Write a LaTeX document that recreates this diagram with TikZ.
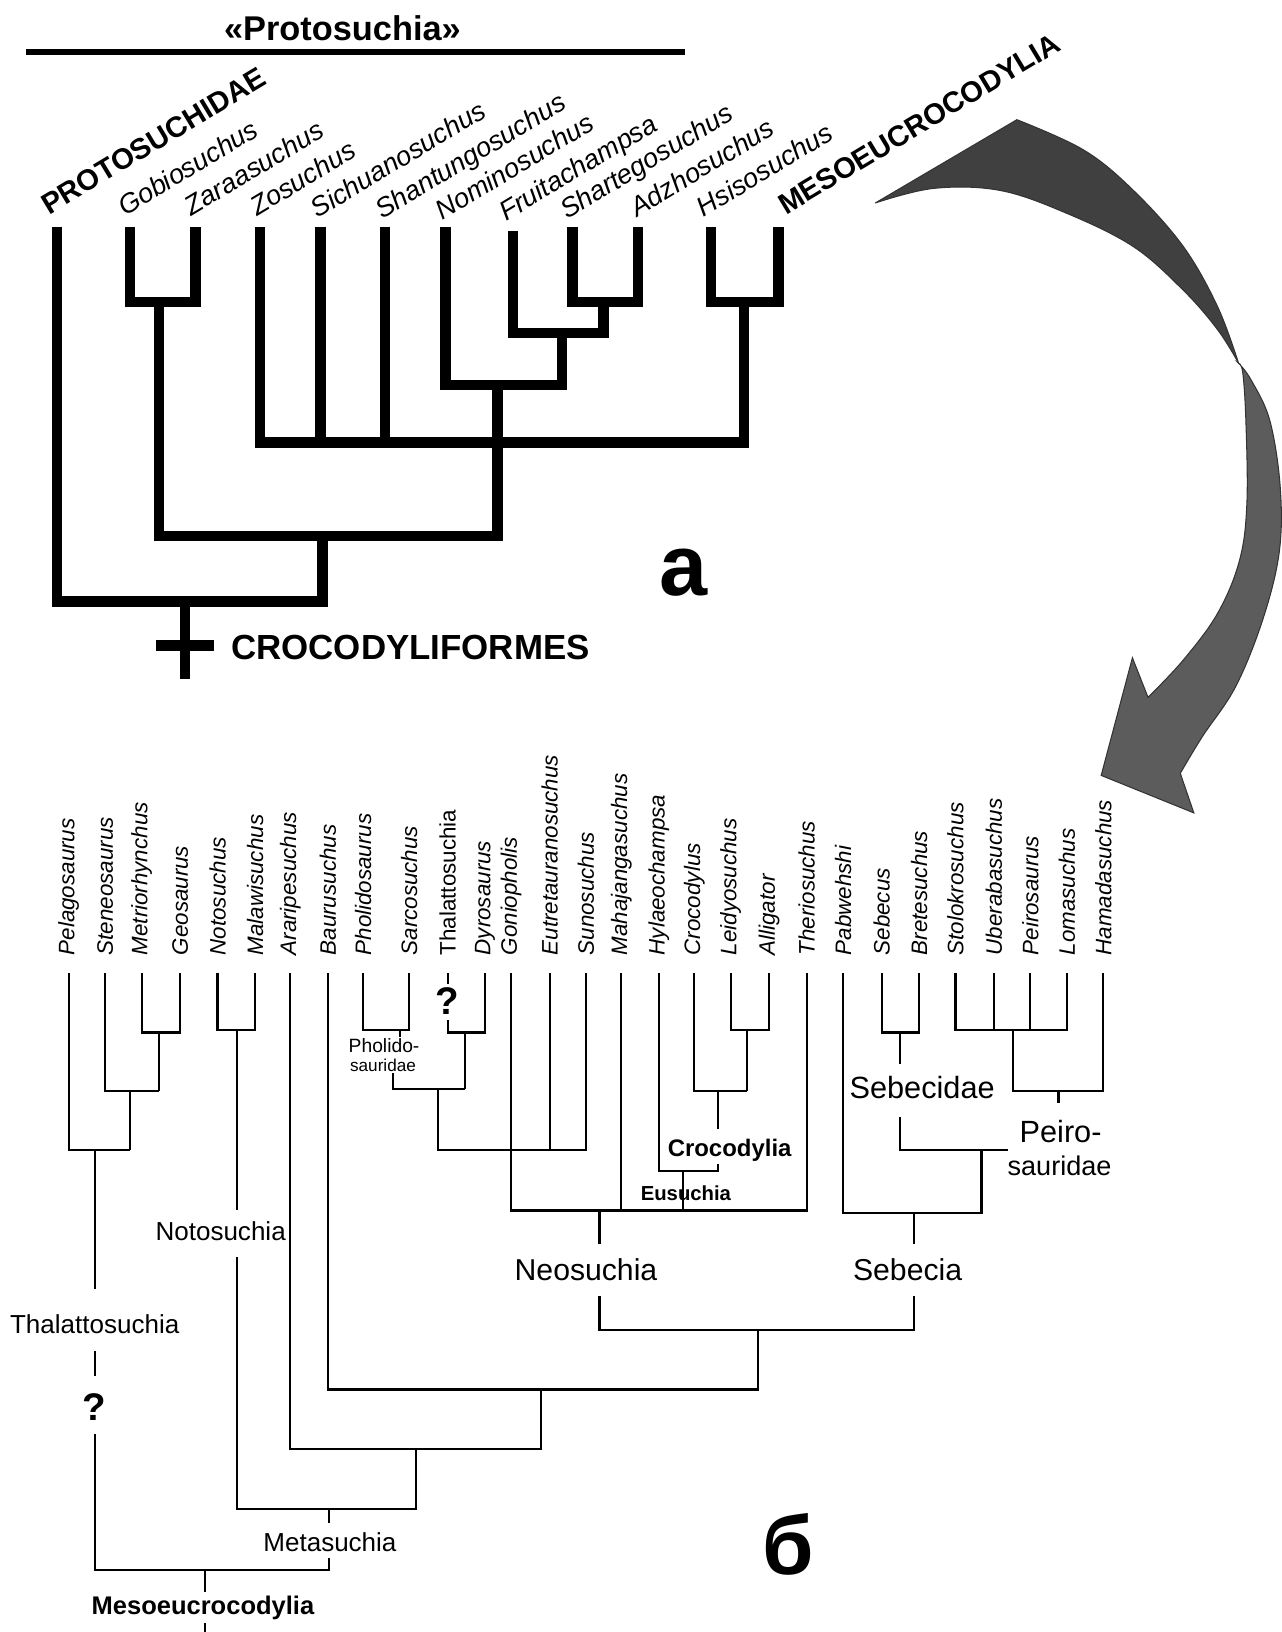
\documentclass[tikz,border=0pt]{standalone}
\usepackage{fontspec}
\setmainfont{Liberation Sans}
\newcommand\fsz[1]{\fontsize{#1}{#1}\selectfont}
\begin{document}
\begin{tikzpicture}[x=1pt,y=-1pt,
  treeA/.style={line width=10pt, line join=miter},
  treeB/.style={line width=2pt, line join=miter},
  topital/.style={anchor=base west, rotate=31, inner sep=0pt, font=\fsz{26}\itshape},
  topbold/.style={anchor=base west, rotate=31, inner sep=0pt, font=\fsz{28}\bfseries},
  botital/.style={anchor=west, rotate=90, inner sep=0pt, font=\fsz{21.5}\itshape},
  botup/.style={anchor=west, rotate=90, inner sep=0pt, font=\fsz{21.5}},
  clade/.style={inner sep=0pt, font=\fsz{25}},
  bigclade/.style={inner sep=0pt, font=\fsz{#1}},
  smallclade/.style={inner sep=0pt, font=\fsz{#1}},
  boldclade/.style={inner sep=0pt, font=\fsz{#1}\bfseries},
  qmark/.style={inner sep=0pt, font=\fsz{37}\bfseries},
  arrowup/.style={fill=black!75, draw=black!80, line width=1pt, line join=round},
  arrowlow/.style={fill=black!64, draw=black!80, line width=1pt, line join=miter}
]
\fill[white] (0,0) rectangle (1231,1568);
\useasboundingbox (0,0) rectangle (1231,1568);

% ---------------- part a ----------------
\node[inner sep=0pt, font=\fsz{33}\bfseries] (protosuchia) at (329,27) {«Protosuchia»};
\coordinate (barL) at (25,50);
\coordinate (barR) at (658,50);
\draw[line width=6pt] (barL) -- (barR);

\node[topbold] (tPro) at (47,207) {PROTOSUCHIDAE};
\node[topital] (tGob) at (120,208) {Gobiosuchus};
\node[topital] (tZar) at (184,208) {Zaraasuchus};
\node[topital] (tZos) at (247,208) {Zosuchus};
\node[topital] (tSic) at (305,210) {Sichuanosuchus};
\node[topital] (tSha) at (367,211) {Shantungosuchus};
\node[topital] (tNom) at (425,212) {Nominosuchus};
\node[topital] (tFru) at (486,213) {Fruitachampsa};
\node[topital] (tSht) at (545,211) {Shartegosuchus};
\node[topital] (tAdz) at (612,209) {Adzhosuchus};
\node[topital] (tHsi) at (676,209) {Hsisosuchus};
\node[topbold] (tMes) at (755,207) {MESOEUCROCODYLIA};

% tree a
\draw[treeA] (125,218) -- (125,290) -- (188,290) -- (188,218);
\draw[treeA] (550,218) -- (550,290) -- (613,290) -- (613,218);
\draw[treeA] (580,290) -- (580,320);
\draw[treeA] (493,222) -- (493,320) -- (585,320);
\draw[treeA] (540,320) -- (540,370);
\draw[treeA] (428,218) -- (428,370) -- (545,370);
\draw[treeA] (478,370) -- (478,425);
\draw[treeA] (683,218) -- (683,290) -- (748,290) -- (748,218);
\draw[treeA] (715,290) -- (715,425);
\draw[treeA] (250,218) -- (250,425) -- (720,425);
\draw[treeA] (308,218) -- (308,425);
\draw[treeA] (370,218) -- (370,425);
\draw[treeA] (478,425) -- (478,515);
\draw[treeA] (153,290) -- (153,515) -- (483,515);
\draw[treeA] (310,515) -- (310,578);
\draw[treeA] (55,218) -- (55,578) -- (315,578);
\coordinate (rootTop) at (178,578);
\coordinate (rootBot) at (178,652);
\draw[treeA] (rootTop) -- (rootBot);
\draw[treeA] (150,620) -- (206,620);
\node[anchor=west, inner sep=0pt, font=\fsz{33.5}\bfseries] (crocodyliformes) at (222,622) {CROCODYLIFORMES};
\node[inner sep=0pt, font=\fsz{83}\bfseries] (la) at (657,550) {а};

% ---------------- arrow ----------------
\path[arrowup] (841,195) -- plot[smooth, tension=0.6] coordinates {(977,115) (1041,144) (1089,183) (1137,237) (1170,295) (1190,349)}
  -- plot[smooth, tension=0.6] coordinates {(1190,349) (1170,317) (1137,279) (1089,237) (1025,205) (961,183) (897,181) (841,195)} -- cycle;
\path[arrowlow] plot[smooth, tension=0.6] coordinates {(1190,349) (1202,365) (1220,404) (1230,468) (1229,531) (1213,596) (1187,660) (1155,708) (1134,743)}
  -- (1147,781) -- (1058,745) -- (1088,632)
  -- plot[smooth, tension=0.6] coordinates {(1103,670) (1137,634) (1170,589) (1191,538) (1198,483) (1197,404) (1194,358) (1190,349)} -- cycle;

% ---------------- part b ----------------
\foreach \x/\t in {66/Pelagosaurus, 101/Steneosaurus, 136/Metriorhynchus, 173/Geosaurus,
  209/Notosuchus, 245/Malawisuchus, 279/Araripesuchus, 315/Baurusuchus, 349/Pholidosaurus,
  393/Sarcosuchus, 466/Dyrosaurus, 491/Goniopholis, 528/Eutretauranosuchus, 563/Sunosuchus,
  597/Mahajangasuchus, 633/Hylaeochampsa, 667/Crocodylus, 702/Leidyosuchus, 739/Alligator,
  775/Theriosuchus, 810/Pabwehshi, 847/Sebecus, 883/Bretesuchus, 918/Stolokrosuchus,
  955/Uberabasuchus, 990/Peirosaurus, 1025/Lomasuchus, 1060/Hamadasuchus}
  \node[botital] (b\t) at (\x,918) {\t};
\node[botup] (bThalattosuchia) at (430,918) {Thalattosuchia};

% Thalattosuchia clade
\draw[treeB] (136,935) -- (136,992) -- (173,992) -- (173,935);
\draw[treeB] (153,992) -- (153,1048);
\draw[treeB] (101,935) -- (101,1048) -- (153,1048);
\draw[treeB] (125,1048) -- (125,1105);
\draw[treeB] (66,935) -- (66,1105) -- (125,1105);
\draw[treeB] (91,1105) -- (91,1238);
\node[clade] (thal) at (91,1272) {Thalattosuchia};
\draw[treeB] (91,1298) -- (91,1322);
\node[qmark] (q1) at (91,1352) {?};
\draw[treeB] (91,1378) -- (91,1508) -- (316,1508) -- (316,1497);
\node[clade] (meta) at (317,1482) {Metasuchia};
\draw[treeB] (316,1463) -- (316,1450);
\draw[treeB] (197,1508) -- (197,1530);
\node[boldclade=24.5] (meso) at (195,1545) {Mesoeucrocodylia};
\draw[treeB] (197,1559) -- (197,1568);

% Notosuchia
\draw[treeB] (209,935) -- (209,990) -- (245,990) -- (245,935);
\draw[treeB] (228,990) -- (228,1163);
\node[clade] (noto) at (212,1183) {Notosuchia};
\draw[treeB] (228,1208) -- (228,1450) -- (400,1450) -- (400,1392);
\draw[treeB] (279,935) -- (279,1392) -- (520,1392) -- (520,1335);
\draw[treeB] (315,935) -- (315,1335) -- (728,1335) -- (728,1278);
\draw[treeB] (576,1245) -- (576,1278) -- (878,1278) -- (878,1245);
\node[bigclade=29] (neo) at (563,1220) {Neosuchia};
\node[bigclade=29] (sebecia) at (872,1220) {Sebecia};

% Neosuchia
\draw[treeB] (576,1195) -- (576,1163);
\draw[treeB] (491,935) -- (491,1163) -- (775,1163) -- (775,935);
\draw[treeB] (597,935) -- (597,1163);
\draw[treeB] (421,1046) -- (421,1105) -- (563,1105) -- (563,935);
\draw[treeB] (528,935) -- (528,1105);
\draw[treeB] (349,935) -- (349,990) -- (393,990) -- (393,935);
\draw[treeB] (384,990) -- (384,996);
\node[smallclade=18.5] (pholA) at (369,1005) {Pholido-};
\node[smallclade=16.5] (pholB) at (368,1024) {sauridae};
\draw[treeB] (378,1031) -- (378,1046) -- (447,1046);
\draw[treeB] (430,935) -- (430,945);
\node[qmark] (q2) at (430,962) {?};
\draw[treeB] (430,980) -- (430,992) -- (466,992) -- (466,935);
\draw[treeB] (447,992) -- (447,1046);

% Eusuchia / Crocodylia
\draw[treeB] (633,935) -- (633,1125) -- (690,1125) -- (690,1118);
\draw[treeB] (656,1125) -- (656,1163);
\node[boldclade=19.5] (eus) at (659,1146) {Eusuchia};
\node[boldclade=23] (croc) at (701,1105) {Crocodylia};
\draw[treeB] (667,935) -- (667,1048) -- (718,1048);
\draw[treeB] (702,935) -- (702,990) -- (739,990) -- (739,935);
\draw[treeB] (718,990) -- (718,1048);
\draw[treeB] (690,1048) -- (690,1085);

% Sebecia
\draw[treeB] (810,935) -- (810,1165) -- (943,1165) -- (943,1105);
\draw[treeB] (878,1165) -- (878,1195);
\draw[treeB] (865,1073) -- (865,1105) -- (968,1105);
\draw[treeB] (847,935) -- (847,992) -- (883,992) -- (883,935);
\draw[treeB] (865,992) -- (865,1022);
\node[bigclade=29.5] (sebecidae) at (886,1045) {Sebecidae};
\draw[treeB] (918,935) -- (918,990) -- (1025,990) -- (1025,935);
\draw[treeB] (955,935) -- (955,990);
\draw[treeB] (990,935) -- (990,990);
\draw[treeB] (973,990) -- (973,1048) -- (1060,1048) -- (1060,935);
\draw[treeB] (1017,1048) -- (1017,1060);
\node[bigclade=29.5] (peiroA) at (1019,1087) {Peiro-};
\node[bigclade=26] (peiroB) at (1018,1120) {sauridae};

\node[inner sep=0pt, font=\fsz{80}\bfseries] (lb) at (757,1484) {б};
\end{tikzpicture}
\end{document}
